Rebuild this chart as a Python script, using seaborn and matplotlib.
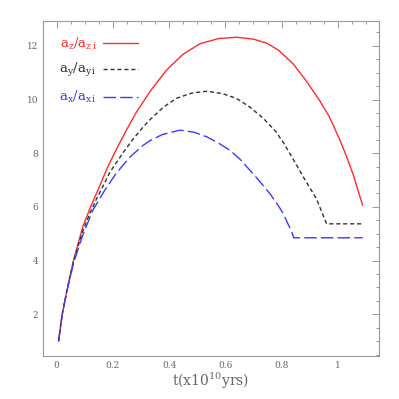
import matplotlib
matplotlib.use("Agg")
import matplotlib.pyplot as plt
import seaborn as sns

# values
t_z = [0.007, 0.02, 0.037, 0.06, 0.093, 0.12, 0.152, 0.18, 0.211, 0.245, 0.282, 0.332,
       0.391, 0.45, 0.51, 0.575, 0.64, 0.70, 0.747, 0.79, 0.841, 0.885, 0.936,
       0.97, 1.007, 1.03, 1.054, 1.088]
a_z = [1.0, 2.0, 2.9, 4.0, 5.26, 5.98, 6.75, 7.45, 8.11, 8.8, 9.5, 10.3,
       11.1, 11.69, 12.08, 12.27, 12.32, 12.25, 12.1, 11.83, 11.33, 10.73, 9.95,
       9.35, 8.5, 7.9, 7.22, 6.06]

t_y = [0.007, 0.02, 0.037, 0.06, 0.093, 0.118, 0.14, 0.19, 0.235, 0.27, 0.308, 0.332,
       0.38, 0.427, 0.48, 0.534, 0.59, 0.64, 0.687, 0.735, 0.78, 0.806, 0.84,
       0.877, 0.924, 0.96, 1.088]
a_y = [1.0, 2.0, 2.9, 3.98, 5.1, 5.75, 6.25, 7.3, 8.0, 8.5, 8.98, 9.25,
       9.72, 10.05, 10.24, 10.31, 10.22, 10.04, 9.72, 9.3, 8.8, 8.4, 7.8,
       7.12, 6.3, 5.37, 5.37]

t_x = [0.007, 0.02, 0.037, 0.06, 0.093, 0.129, 0.17, 0.211, 0.26, 0.306, 0.332,
       0.377, 0.439, 0.49, 0.534, 0.575, 0.616, 0.65, 0.687, 0.72, 0.758, 0.785,
       0.806, 0.818, 0.835, 0.843, 1.088]
a_x = [1.0, 2.0, 2.88, 3.9, 4.95, 5.88, 6.6, 7.24, 7.85, 8.28, 8.47,
       8.7, 8.86, 8.78, 8.61, 8.38, 8.11, 7.8, 7.37, 6.98, 6.5, 6.1,
       5.75, 5.47, 5.1, 4.85, 4.85]

labels = ["a$_z$/a$_{z\\,i}$", "a$_y$/a$_{y\\,i}$", "a$_x$/a$_{x\\,i}$"]
colors = ["#ff2a2a", "#333333", "#3a3aff"]
dash_styles = [None, (3, 2), (9, 3)]

sns.set_style("white")
plt.rcParams["font.family"] = ["DejaVu Serif"]
plt.rcParams["mathtext.fontset"] = "dejavuserif"
plt.rcParams["mathtext.default"] = "regular"

fig = plt.figure(figsize=(3.99, 3.99), dpi=100)
ax = fig.add_axes([0.108, 0.108, 0.841, 0.839])

series = [(t_z, a_z), (t_y, a_y), (t_x, a_x)]
for (t, a), lab, c, d in zip(series, labels, colors, dash_styles):
    sns.lineplot(x=t, y=a, ax=ax, color=c, lw=1.0, sort=False, label=lab)
    if d is not None:
        ax.lines[-1].set_dashes(d)

ax.set_xlim(-0.048, 1.145)
ax.set_ylim(0.45, 12.92)
ax.set_xticks([0, 0.2, 0.4, 0.6, 0.8, 1.0])
ax.set_xticklabels(["0", "0.2", "0.4", "0.6", "0.8", "1"])
ax.set_yticks([2, 4, 6, 8, 10, 12])
ax.set_xticks([i * 0.05 for i in range(0, 23)], minor=True)
ax.set_yticks([0.5 * i for i in range(1, 26)], minor=True)
ax.tick_params(which="both", direction="in", top=True, right=True,
               colors="#888888", labelsize=6.5, labelcolor="#666666")
ax.tick_params(which="major", length=5, width=0.6)
ax.tick_params(which="minor", length=2.5, width=0.6)
for sp in ax.spines.values():
    sp.set_color("#999999")
    sp.set_linewidth(0.8)

ax.set_xlabel("t(x10$^{10}$yrs)", fontsize=10, color="#666666", labelpad=1)
ax.set_ylabel("")

ax.legend(loc="upper left", frameon=False, markerfirst=False,
          fontsize=9.5, handlelength=2.6, handletextpad=0.5,
          labelspacing=0.75, borderaxespad=0.3,
          bbox_to_anchor=(0.02, 0.985), labelcolor="linecolor")

fig.savefig("out.png", dpi=100)
